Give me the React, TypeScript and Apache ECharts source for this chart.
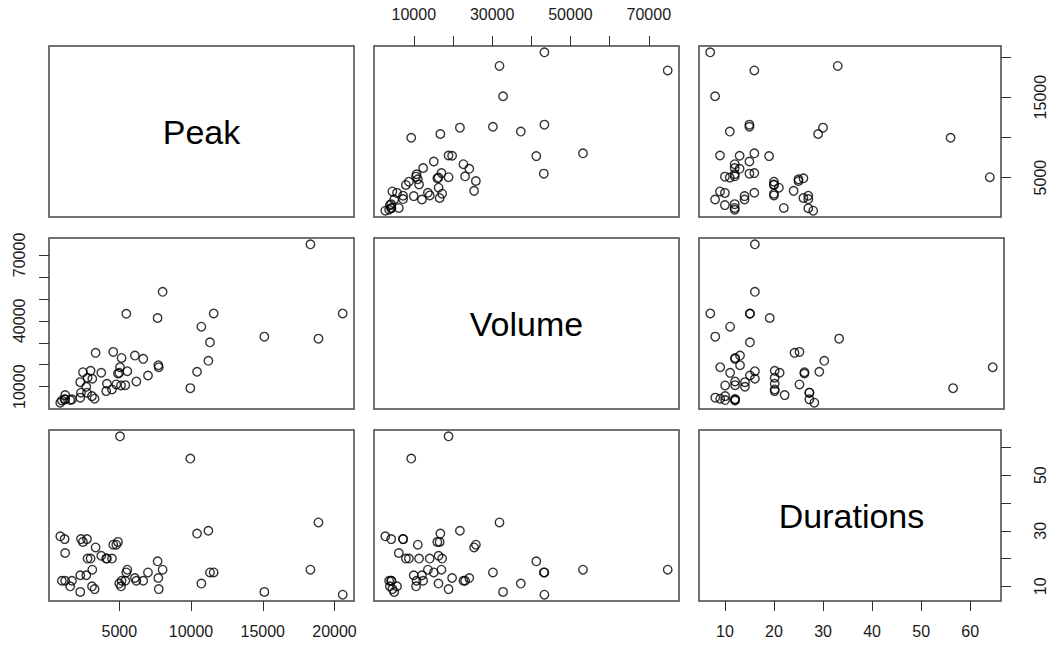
import React, { useEffect, useRef } from "react";
import * as echarts from "echarts";

// ---- data ----
const peak = [
  20570, 18880, 18320, 15110, 11580, 11320, 11210, 10720, 10420, 9950,
  5050, 8020, 7670, 7720, 7750, 5490, 5560, 3350, 4580, 5160,
  6090, 6670, 7000, 6190, 4910, 3745, 2470, 3000, 2790, 3120,
  2280, 2700, 4140, 4790, 5420, 5120, 4090, 4490, 2330, 2750,
  3100, 3280, 1230, 1700, 890, 1190, 2280, 1230, 1000, 1580, 5000,
];
const volume = [
  43350, 31880, 74830, 32790, 43350, 30200, 21770, 37320, 16780, 9340,
  18870, 53200, 41270, 19780, 18870, 43200, 17050, 25400, 25850, 23100,
  24170, 22670, 15100, 12380, 16010, 16330, 16600, 17230, 14060, 13600,
  12070, 9980, 11340, 11020, 10700, 10570, 7980, 8750, 7260, 7260,
  5710, 4530, 6170, 4220, 2720, 4220, 5000, 4300, 3700, 3900, 16300,
];
const durations = [
  7, 33, 16, 8, 15, 15, 30, 11, 29, 56,
  64, 16, 19, 13, 9, 15, 16, 24, 25, 12,
  13, 12, 15, 12, 26, 21, 26, 20, 20, 16,
  14, 14, 20, 25, 12, 10, 20, 20, 27, 27,
  10, 9, 22, 12, 28, 27, 8, 12, 12, 10, 11,
];

const varNames = ["Peak", "Volume", "Durations"];

const peakTicks = [5000, 10000, 15000, 20000];
const peakLabelsBottom = [5000, 10000, 15000, 20000];
const peakLabelsRight = [5000, 15000];
const volumeTicks = [10000, 20000, 30000, 40000, 50000, 60000, 70000];
const volumeLabelsTop = [10000, 30000, 50000, 70000];
const volumeLabelsLeft = [10000, 40000, 70000];
const durTicks = [10, 20, 30, 40, 50, 60];
const durLabelsBottom = [10, 20, 30, 40, 50, 60];
const durLabelsRight = [10, 30, 50];

const FONT = "'Liberation Sans', Arial, Helvetica, sans-serif";
const vars = [peak, volume, durations];

function range(arr: number[]) {
  const mn = Math.min(...arr);
  const mx = Math.max(...arr);
  const pad = 0.04 * (mx - mn);
  return { min: mn - pad, max: mx + pad };
}

const colLeft = [49, 374, 699];
const rowTop = [46, 238, 430];
const W = 305;
const H = 171;

type AxisSpec = { position: string; ticks: number[]; labels: number[]; margin: number } | null;

function makeAxis(kind: "x" | "y", gridIndex: number, vi: number, spec: AxisSpec) {
  const r = range(vars[vi]);
  const base: any = {
    type: "value",
    gridIndex,
    min: r.min,
    max: r.max,
    splitLine: { show: false },
    axisLine: { show: false },
  };
  if (!spec) {
    return { ...base, show: false };
  }
  return {
    ...base,
    show: true,
    position: spec.position,
    axisTick: {
      show: true,
      inside: false,
      length: 10,
      lineStyle: { color: "#333", width: 1 },
      customValues: spec.ticks,
    },
    axisLabel: {
      show: true,
      customValues: spec.labels,
      formatter: (v: number) => String(v),
      margin: spec.margin,
      fontSize: 16,
      color: "#1a1a1a",
      fontFamily: FONT,
      rotate: kind === "y" ? 90 : 0,
    },
  };
}

export default function App() {
  const ref = useRef<HTMLDivElement>(null);
  useEffect(() => {
    if (!ref.current) return;
    const chart = echarts.init(ref.current, undefined, { renderer: "svg" });
    const grids: any[] = [];
    const xAxes: any[] = [];
    const yAxes: any[] = [];
    const series: any[] = [];
    const graphics: any[] = [];

    for (let r = 0; r < 3; r++) {
      for (let c = 0; c < 3; c++) {
        const gi = r * 3 + c;
        grids.push({
          left: colLeft[c],
          top: rowTop[r],
          width: W,
          height: H,
          show: true,
          borderColor: "#444",
          borderWidth: 1.5,
          backgroundColor: "transparent",
        });
        let xs: AxisSpec = null;
        if (r === 0 && c === 1) xs = { position: "top", ticks: volumeTicks, labels: volumeLabelsTop, margin: 24 };
        if (r === 2 && c === 0) xs = { position: "bottom", ticks: peakTicks, labels: peakLabelsBottom, margin: 22 };
        if (r === 2 && c === 2) xs = { position: "bottom", ticks: durTicks, labels: durLabelsBottom, margin: 22 };
        let ys: AxisSpec = null;
        if (r === 0 && c === 2) ys = { position: "right", ticks: peakTicks, labels: peakLabelsRight, margin: 31 };
        if (r === 1 && c === 0) ys = { position: "left", ticks: volumeTicks, labels: volumeLabelsLeft, margin: 22 };
        if (r === 2 && c === 2) ys = { position: "right", ticks: durTicks, labels: durLabelsRight, margin: 31 };
        xAxes.push(makeAxis("x", gi, c, xs));
        yAxes.push(makeAxis("y", gi, r, ys));

        if (r !== c) {
          const xv = vars[c];
          const yv = vars[r];
          series.push({
            type: "scatter",
            xAxisIndex: gi,
            yAxisIndex: gi,
            symbol: "circle",
            symbolSize: 8.5,
            itemStyle: { color: "rgba(0,0,0,0)", borderColor: "#000", borderWidth: 1.4 },
            data: xv.map((v, i) => [v, yv[i]]),
            silent: true,
          });
        } else {
          graphics.push({
            type: "text",
            x: colLeft[c] + W / 2,
            y: rowTop[r] + H / 2,
            style: {
              text: varNames[r],
              fontSize: 34,
              fontFamily: FONT,
              fill: "#000",
              textAlign: "center",
              textVerticalAlign: "middle",
            },
          });
        }
      }
    }

    chart.setOption({
      animation: false,
      backgroundColor: "#fff",
      grid: grids,
      xAxis: xAxes,
      yAxis: yAxes,
      series,
      graphic: graphics,
    });
    return () => chart.dispose();
  }, []);
  return (
    <div
      ref={ref}
      style={{ position: "fixed", left: 0, top: 0, width: 1048, height: 649, background: "#fff" }}
    />
  );
}
